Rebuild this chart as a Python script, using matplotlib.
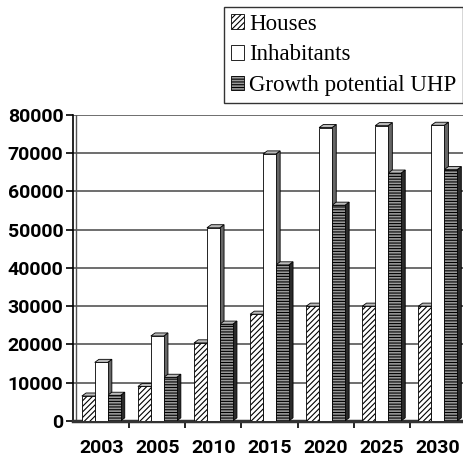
import numpy as np
import matplotlib.pyplot as plt
from matplotlib.patches import Polygon, Patch

years = ["2003", "2005", "2010", "2015", "2020", "2025", "2030"]
houses = [6500, 9000, 20400, 27900, 30000, 30000, 30000]
inhabitants = [15300, 22200, 50500, 69800, 76700, 77200, 77300]
growth = [6700, 11400, 25300, 40800, 56400, 64800, 65700]

plt.rcParams['hatch.linewidth'] = 0.8

fig = plt.figure(figsize=(4.63, 4.58), dpi=100)
ax = fig.add_axes([0.158, 0.081, 0.842, 0.668])

x = np.arange(len(years))
w = 0.23
dx = 0.075
dy = 800

series = [
    (houses, -w, "white", "//////", "#555555", "Houses"),
    (inhabitants, 0, "white", "", "#666666", "Inhabitants"),
    (growth, w, "#9a9a9a", "------", "#2a2a2a", "Growth potential UHP"),
]

for vals, off, fc, hatch, side, lab in series:
    for xi, h in zip(x, vals):
        x0 = xi + off - w / 2
        x1 = xi + off + w / 2
        ax.add_patch(Polygon([(x1, 0), (x1 + dx, dy), (x1 + dx, h + dy), (x1, h)],
                             closed=True, fc=side, ec="black", lw=0.6, zorder=3))
        ax.add_patch(Polygon([(x0, h), (x0 + dx, h + dy), (x1 + dx, h + dy), (x1, h)],
                             closed=True, fc="#bbbbbb", ec="black", lw=0.6, zorder=3))
    ax.bar(x + off, vals, w, color=fc, edgecolor="black", hatch=hatch,
           linewidth=0.6, zorder=4)

ax.set_xlim(-0.5, 6.45)
ax.set_ylim(0, 80000)
ax.set_yticks(np.arange(0, 80001, 10000))
ax.yaxis.grid(True, color="#555555", lw=1.2, zorder=0)
ax.set_axisbelow(True)
ax.set_xticks(x)
ax.set_xticklabels(years)
ax.set_xticks(x[:-1] + 0.5, minor=True)
ax.tick_params(axis="x", which="major", length=0, pad=13)
ax.tick_params(axis="x", which="minor", length=5, width=1.2, direction="out")
ax.tick_params(axis="y", length=5, width=1.2, direction="out", pad=2)
for t in ax.get_xticklabels() + ax.get_yticklabels():
    t.set_fontfamily("Roboto")
    t.set_fontsize(14)
    t.set_fontweight("semibold")

for s in ["top", "right"]:
    ax.spines[s].set_visible(False)
ax.spines["left"].set_linewidth(1.2)
ax.spines["bottom"].set_linewidth(2.5)
ax.spines["bottom"].set_color("#333333")
ax.axvline(-0.45, color="#555555", lw=1.0, zorder=1)

handles = [
    Patch(facecolor="white", edgecolor="black", hatch="//////", lw=0.6),
    Patch(facecolor="white", edgecolor="black", lw=0.6),
    Patch(facecolor="#9a9a9a", edgecolor="black", hatch="------", lw=0.6),
]
leg = fig.legend(handles, [s[5] for s in series], loc="upper right",
                 bbox_to_anchor=(1.0, 0.985), frameon=True, fancybox=False,
                 edgecolor="black", handlelength=0.6, handleheight=0.6,
                 handletextpad=0.2, borderpad=0.3, labelspacing=0.42,
                 borderaxespad=0.0,
                 prop={"family": "Liberation Serif", "size": 16.5})
leg.get_frame().set_linewidth(1.0)

fig.savefig("out.png", dpi=100)
